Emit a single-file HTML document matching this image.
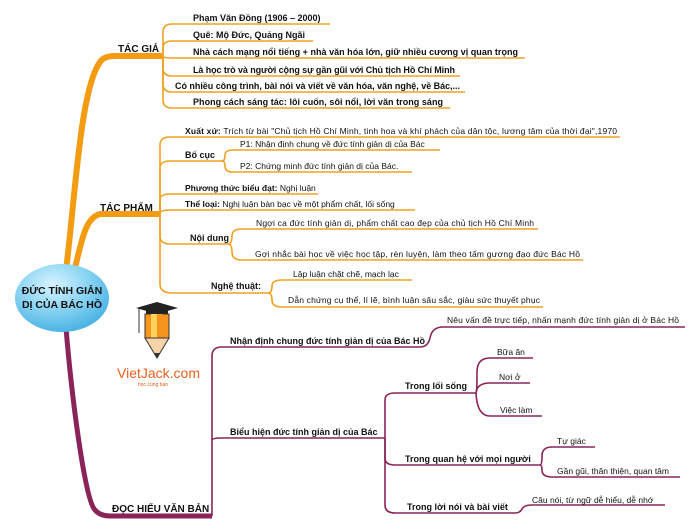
<!DOCTYPE html>
<html><head><meta charset="utf-8"><style>
html,body{margin:0;padding:0;background:#fff;width:700px;height:531px;overflow:hidden}
svg{display:block}
text{font-family:"Liberation Sans","DejaVu Sans",sans-serif;font-size:9px;fill:#111}
.b{font-weight:bold}
.o{stroke:#f0a020;fill:none;stroke-width:1.6}
.p{stroke:#8a2458;fill:none;stroke-width:1.6}
</style></head><body>
<svg width="700" height="531" viewBox="0 0 700 531">
<defs>
<radialGradient id="g" cx="40%" cy="30%" r="70%"><stop offset="0" stop-color="#d8f3ff"/><stop offset=".5" stop-color="#8fd6f4"/><stop offset="1" stop-color="#4bb4e4"/></radialGradient>
</defs>
<!-- main orange branches -->
<path d="M66 270 C75 200 80 90 100 62 Q104 56 115 56 L162 56" stroke="#f39c12" stroke-width="6" fill="none"/>
<path d="M74 272 C82 240 85 218 100 214 L160 214" stroke="#f39c12" stroke-width="6" fill="none"/>
<!-- purple main -->
<path d="M66 328 C72 400 85 500 95 510 Q100 516 110 516 L212 516" stroke="#8a2458" stroke-width="5" fill="none"/>
<!-- TAC GIA subs -->
<path class="o" d="M163 56 L163 32 Q163 24 172 24 L330 24"/>
<path class="o" d="M163 56 L163 48 Q163 41 172 41 L313 41"/>
<path class="o" d="M163 56 Q163 58 172 58 L525 58"/>
<path class="o" d="M163 56 L163 68 Q163 76 172 76 L460 76"/>
<path class="o" d="M163 56 L163 84 Q163 92 172 92 L465 92"/>
<path class="o" d="M163 56 L163 100 Q163 108 172 108 L450 108"/>
<!-- TAC PHAM subs -->
<path class="o" d="M160 214 L160 145 Q160 137 170 137 L620 137"/>
<path class="o" d="M160 214 L160 168 Q160 161 170 161 L222 161"/>
<path class="o" d="M222 161 Q225 161 225 155 Q225 150 233 150 L440 150"/>
<path class="o" d="M222 161 Q225 161 225 166 Q225 172 233 172 L412 172"/>
<path class="o" d="M160 214 L160 200 Q160 194 170 194 L318 194"/>
<path class="o" d="M160 214 Q160 210 170 210 L415 210"/>
<path class="o" d="M160 214 L160 236 Q160 244 170 244 L228 244"/>
<path class="o" d="M228 244 Q232 244 232 236 Q232 229 242 229 L538 229"/>
<path class="o" d="M228 244 Q232 244 232 252 Q232 260 242 260 L583 260"/>
<path class="o" d="M160 214 L160 284 Q160 293 172 293 L268 293"/>
<path class="o" d="M268 293 Q272 293 272 286 Q272 280 282 280 L412 280"/>
<path class="o" d="M268 293 Q272 293 272 300 Q272 307 282 307 L543 307"/>
<!-- purple subs -->
<path class="p" d="M212 516 L212 356 Q212 347 222 347 L420 347 Q428 347 430 338 Q432 327 443 327 L685 327"/>
<path class="p" d="M212 440 Q212 438 222 438 L385 438"/>
<path class="p" d="M385 438 L385 400 Q385 393 395 393 L476 393"/>
<path class="p" d="M476 393 Q477 393 477 372 Q477 358 490 358 L533 358"/>
<path class="p" d="M476 393 Q477 383 490 383 L530 383"/>
<path class="p" d="M476 393 Q477 416 490 416 L542 416"/>
<path class="p" d="M385 438 L385 458 Q385 465 395 465 L540 465"/>
<path class="p" d="M540 465 Q542 465 542 456 Q542 447 552 447 L595 447"/>
<path class="p" d="M540 465 Q542 465 542 470 Q542 477 552 477 L680 477"/>
<path class="p" d="M385 438 L385 505 Q385 513 395 513 L515 513 Q520 513 522 509 Q524 505 532 505 L665 505"/>
<!-- center ellipse -->
<ellipse cx="62" cy="298" rx="47" ry="34" fill="url(#g)"/>
<text x="62" y="294" text-anchor="middle" class="b" style="font-size:10.5px">ĐỨC TÍNH GIẢN</text>
<text x="62" y="308" text-anchor="middle" class="b" style="font-size:10.5px">DỊ CỦA BÁC HỒ</text>
<!-- level1 labels -->
<text x="118" y="52" class="b" style="font-size:10px">TÁC GIẢ</text>
<text x="100" y="211" class="b" style="font-size:10px">TÁC PHẨM</text>
<text x="112" y="512" class="b" style="font-size:10px">ĐỌC HIỂU VĂN BẢN</text>
<!-- TAC GIA -->
<text x="193" y="21" class="b">Phạm Văn Đồng (1906 – 2000)</text>
<text x="193" y="38" class="b">Quê: Mộ Đức, Quảng Ngãi</text>
<text x="193" y="55" class="b" textLength="325">Nhà cách mạng nổi tiếng + nhà văn hóa lớn, giữ nhiều cương vị quan trọng</text>
<text x="193" y="73" class="b" textLength="262">Là học trò và người cộng sự gần gũi với Chủ tịch Hồ Chí Minh</text>
<text x="175" y="89" class="b" textLength="285">Có nhiều công trình, bài nói và viết về văn hóa, văn nghệ, về Bác,...</text>
<text x="193" y="105" class="b" textLength="250">Phong cách sáng tác: lôi cuốn, sôi nổi, lời văn trong sáng</text>
<!-- TAC PHAM -->
<text x="185" y="134" style="font-size:8.5px" textLength="432"><tspan class="b">Xuất xứ:</tspan> Trích từ bài "Chủ tịch Hồ Chí Minh, tinh hoa và khí phách của dân tộc, lương tâm của thời đại",1970</text>
<text x="185" y="158" class="b">Bố cục</text>
<text x="240" y="147" style="font-size:8.5px">P1: Nhận định chung về đức tính giản dị của Bác</text>
<text x="240" y="169" style="font-size:8.5px">P2: Chứng minh đức tính giản dị của Bác.</text>
<text x="185" y="191" style="font-size:8.5px"><tspan class="b">Phương thức biểu đạt:</tspan> Nghị luận</text>
<text x="185" y="207" style="font-size:8.5px"><tspan class="b">Thể loại:</tspan> Nghị luận bàn bạc về một phẩm chất, lối sống</text>
<text x="190" y="241" class="b">Nội dung</text>
<text x="256" y="226" style="font-size:8.5px" textLength="278">Ngợi ca đức tính giản dị, phẩm chất cao đẹp của chủ tịch Hồ Chí Minh</text>
<text x="255" y="257" style="font-size:8.5px" textLength="325">Gợi nhắc bài học về việc học tập, rèn luyện, làm theo tấm gương đạo đức Bác Hồ</text>
<text x="211" y="289" class="b">Nghệ thuật:</text>
<text x="293" y="277" style="font-size:8.5px">Lập luận chặt chẽ, mạch lạc</text>
<text x="288" y="303" style="font-size:8.5px" textLength="252">Dẫn chứng cụ thể, lí lẽ, bình luận sâu sắc, giàu sức thuyết phục</text>
<!-- DOC HIEU -->
<text x="230" y="344" class="b">Nhận định chung đức tính giản dị của Bác Hồ</text>
<text x="447" y="323" style="font-size:8.5px" textLength="232">Nêu vấn đề trực tiếp, nhấn mạnh đức tính giản dị ở Bác Hồ</text>
<text x="230" y="435" class="b">Biểu hiện đức tính giản dị của Bác</text>
<text x="405" y="389" class="b">Trong lối sống</text>
<text x="497" y="355" style="font-size:8.5px">Bữa ăn</text>
<text x="499" y="380" style="font-size:8.5px">Nơi ở</text>
<text x="500" y="413" style="font-size:8.5px">Việc làm</text>
<text x="405" y="462" class="b">Trong quan hệ với mọi người</text>
<text x="557" y="444" style="font-size:8.5px">Tự giác</text>
<text x="557" y="474" style="font-size:8.5px">Gần gũi, thân thiện, quan tâm</text>
<text x="407" y="510" class="b">Trong lời nói và bài viết</text>
<text x="532" y="503" style="font-size:8.5px">Câu nói, từ ngữ dễ hiểu, dễ nhớ</text>
<!-- logo -->
<g>
<polygon points="136,308 157,302 178,308 157,314" fill="#222"/>
<rect x="146" y="308" width="22" height="6" fill="#222"/>
<line x1="139" y1="309" x2="139" y2="333" stroke="#333" stroke-width="1"/>
<rect x="145" y="314" width="24" height="24" fill="#f7941d" stroke="#333" stroke-width="1"/>
<rect x="151" y="314" width="6" height="24" fill="#fbd25a"/>
<rect x="157" y="314" width="6" height="24" fill="#f7941d"/>
<polygon points="145,338 169,338 157,358" fill="#f6d3a8" stroke="#333" stroke-width="1"/>
<polygon points="154,353 160,353 157,358" fill="#333"/>
<text x="117" y="378" style="font-size:14px;fill:#e8601c">VietJack.com</text>
<text x="138" y="386" style="font-size:5px;fill:#e8601c">học cùng bạn</text>
</g>
</svg>
</body></html>
